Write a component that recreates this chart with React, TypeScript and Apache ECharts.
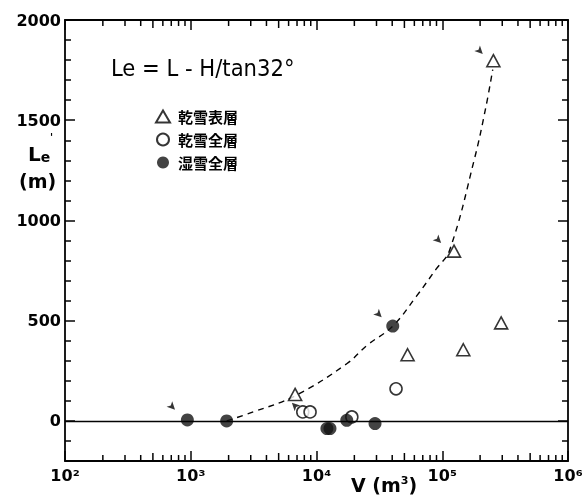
import React, { useEffect, useRef } from "react";
import * as echarts from "echarts";

// Data (x: volume V in m^3, y: Le in m)
const dryTopX = [6760, 53000, 147000, 294000, 124000, 255000];
const dryTopY = [132, 330, 355, 489, 847, 1797];

const dryAllX = [7780, 8890, 19100, 42900];
const dryAllY = [45, 45, 20, 160];

const wetAllX = [940, 1930, 12100, 12800, 17400, 29200, 40400];
const wetAllY = [5, 0, -38, -38, 3, -13, 473];

const curveX = [1930, 3150, 6760, 17400, 25100, 40400, 62000, 89300, 114000, 180000, 223000, 252000];
const curveY = [0, 45, 125, 285, 376, 473, 620, 757, 849, 1305, 1570, 1753];

const arrowX = [750, 6370, 33000, 98000, 210000];
const arrowY = [56, 91, 517, 887, 1831];
const arrowRot = [-135, 45, -135, -135, -135];

const xTickLabels: Record<number, string> = {
  100: "10²",
  1000: "10³",
  10000: "10⁴",
  100000: "10⁵",
  1000000: "10⁶",
};
const yTickLabels = [0, 500, 1000, 1500, 2000];

// log-axis minor tick positions (2..9 per decade)
const decades = [100, 1000, 10000, 100000];
const minorMultipliers = [2, 3, 4, 5, 6, 7, 8, 9];

const seriesNames = ["乾雪表層", "乾雪全層", "湿雪全層"];

const zip = (xs: number[], ys: number[]) => xs.map((x, i) => [x, ys[i]]);

export default function App() {
  const ref = useRef<HTMLDivElement>(null);
  useEffect(() => {
    document.body.style.margin = "0";
    if (!ref.current) return;
    const chart = echarts.init(ref.current, undefined, { renderer: "svg" });
    const black = "#000";
    const labelFont = {
      color: black,
      fontFamily: "DejaVu Sans",
      fontWeight: "bold" as const,
      fontSize: 16,
    };
    const xAxisBase = {
      type: "log" as const,
      logBase: 10,
      min: 100,
      max: 1000000,
      splitLine: { show: false },
      axisLine: { show: true, onZero: false, lineStyle: { color: black, width: 1.8 } },
      axisTick: { show: true, inside: true, length: 10, lineStyle: { color: black, width: 1.5 } },
    };
    const yAxisBase = {
      type: "value" as const,
      min: -200,
      max: 2000,
      splitNumber: 5,
      splitLine: { show: false },
      axisLine: { show: true, onZero: false, lineStyle: { color: black, width: 1.8 } },
      axisTick: { show: true, inside: true, length: 10, lineStyle: { color: black, width: 1.5 } },
      minorTick: { show: true, splitNumber: 5, length: 6, lineStyle: { color: black, width: 1.5 } },
      minorSplitLine: { show: false },
    };
    const minorTickData: number[][] = [];
    decades.forEach((d) => minorMultipliers.forEach((m) => minorTickData.push([d * m, 0, m])));
    chart.setOption({
      animation: false,
      grid: { left: 65, right: 18, top: 20, bottom: 35, containLabel: false },
      xAxis: [
        {
          ...xAxisBase,
          position: "bottom",
          axisLabel: {
            ...labelFont,
            margin: 6,
            formatter: (v: number) => xTickLabels[Math.round(v)] ?? "",
          },
        },
        { ...xAxisBase, position: "top", axisLabel: { show: false } },
      ],
      yAxis: [
        {
          ...yAxisBase,
          position: "left",
          axisLabel: {
            ...labelFont,
            margin: 4,
            formatter: (v: number) => (yTickLabels.includes(v) ? String(v) : ""),
          },
        },
        { ...yAxisBase, position: "right", axisLabel: { show: false } },
      ],
      legend: {
        data: seriesNames,
        orient: "vertical",
        left: 150,
        top: 104,
        itemGap: 8,
        itemWidth: 14,
        itemHeight: 12,
        textStyle: {
          fontFamily: "Noto Sans CJK JP",
          fontWeight: "bold",
          fontSize: 15,
          color: black,
          padding: [0, 0, 0, 3],
        },
      },
      graphic: [
        {
          type: "text",
          left: 111,
          top: 56,
          style: {
            text: "Le = L - H/tan32°",
            font: "23.5px 'Liberation Sans Narrow', 'DejaVu Sans Condensed', sans-serif",
            fill: black,
          },
        },
        {
          type: "text",
          left: 28,
          top: 144,
          style: {
            text: "{a|L}{b|e}",
            rich: {
              a: { font: "bold 20px 'DejaVu Sans'", fill: black, verticalAlign: "bottom" },
              b: { font: "bold 14px 'DejaVu Sans'", fill: black, verticalAlign: "bottom" },
            },
          },
        },
        {
          type: "text",
          left: 50,
          top: 132,
          style: { text: "'", font: "bold 10px 'DejaVu Sans'", fill: black },
        },
        {
          type: "text",
          left: 19,
          top: 171,
          style: { text: "(m)", font: "bold 19px 'DejaVu Sans'", fill: black },
        },
        {
          type: "text",
          left: 351,
          top: 475,
          style: {
            text: "{a|V (m}{b|3}{a|)}",
            rich: {
              a: { font: "bold 19px 'DejaVu Sans'", fill: black, verticalAlign: "bottom" },
              b: { font: "bold 11px 'DejaVu Sans'", fill: black, verticalAlign: "top" },
            },
          },
        },
      ],
      series: [
        {
          name: "minorTicks",
          type: "custom",
          silent: true,
          clip: false,
          data: minorTickData,
          renderItem: (params: any, api: any) => {
            const v = api.value(0);
            const m = api.value(2);
            const len = m === 5 ? 8 : 6;
            const bottom = api.coord([v, -200]);
            const top = api.coord([v, 2000]);
            const style = { stroke: black, lineWidth: 1.5 };
            return {
              type: "group",
              children: [
                { type: "line", shape: { x1: bottom[0], y1: bottom[1], x2: bottom[0], y2: bottom[1] - len }, style },
                { type: "line", shape: { x1: top[0], y1: top[1], x2: top[0], y2: top[1] + len }, style },
              ],
            };
          },
          z: 1,
        },
        {
          name: "curve",
          type: "line",
          data: zip(curveX, curveY),
          smooth: 0.4,
          showSymbol: false,
          symbol: "none",
          silent: true,
          lineStyle: { color: black, width: 1.4, type: [6, 5] },
          markLine: {
            silent: true,
            symbol: "none",
            label: { show: false },
            lineStyle: { color: black, width: 1.3, type: "solid" },
            data: [{ yAxis: 0 }],
          },
          z: 1,
        },
        {
          name: seriesNames[0],
          type: "scatter",
          data: zip(dryTopX, dryTopY),
          symbol: "triangle",
          symbolSize: [13, 12],
          itemStyle: { color: "#fff", borderColor: black, borderWidth: 1.6 },
          z: 3,
        },
        {
          name: seriesNames[1],
          type: "scatter",
          data: zip(dryAllX, dryAllY),
          symbol: "circle",
          symbolSize: 12,
          itemStyle: { color: "#fff", borderColor: black, borderWidth: 1.6 },
          z: 3,
        },
        {
          name: seriesNames[2],
          type: "scatter",
          data: zip(wetAllX, wetAllY),
          symbol: "circle",
          symbolSize: 13,
          itemStyle: { color: "#111", borderColor: "#111", borderWidth: 0 },
          z: 4,
        },
        {
          name: "arrows",
          type: "scatter",
          data: arrowX.map((x, i) => ({
            value: [x, arrowY[i]],
            symbolRotate: arrowRot[i],
          })),
          symbol: "arrow",
          symbolSize: [6, 8],
          itemStyle: { color: black },
          z: 2,
        },
      ],
    });
    return () => chart.dispose();
  }, []);
  return (
    <div style={{ width: 586, height: 496, background: "#fff" }}>
      <div ref={ref} style={{ width: 586, height: 496, opacity: 0.99, willChange: "transform" }} />
    </div>
  );
}
